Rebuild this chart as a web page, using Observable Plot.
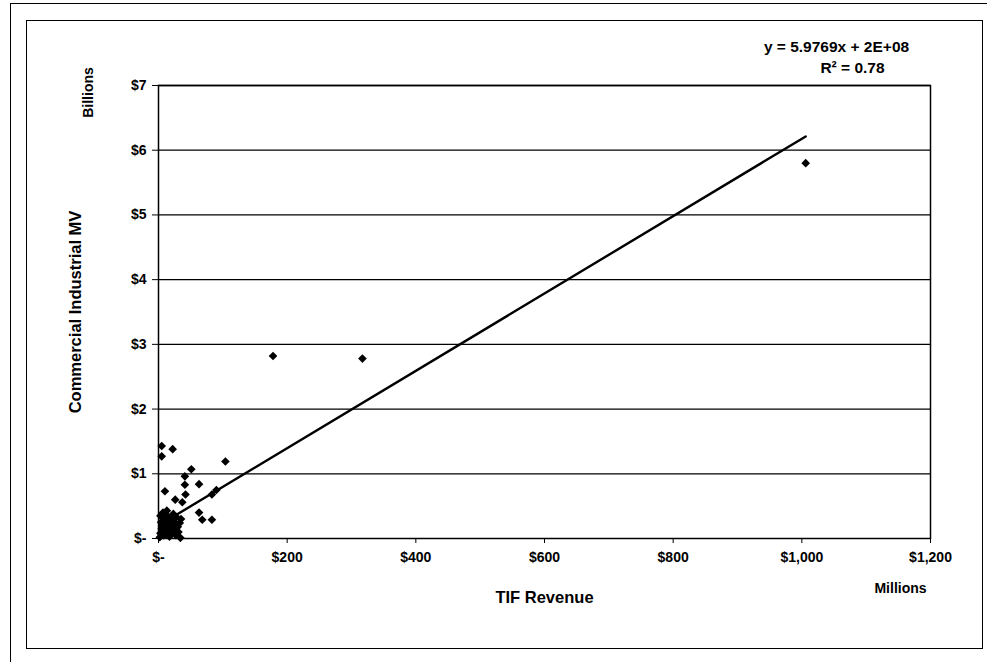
<!DOCTYPE html>
<html>
<head>
<meta charset="utf-8">
<script src="https://cdn.jsdelivr.net/npm/d3@7"></script>
<script src="https://cdn.jsdelivr.net/npm/@observablehq/plot@0.6"></script>
<style>
  html, body { margin: 0; padding: 0; background: #fff; }
  #wrap { position: relative; width: 987px; height: 662px; overflow: hidden; background: #fff; }
  #outer { position: absolute; left: 10px; top: 3px; width: 1000px; height: 700px; border: 1.5px solid #000; box-sizing: border-box; }
  #inner { position: absolute; left: 26px; top: 20px; width: 957px; height: 629px; border: 1.5px solid #000; box-sizing: border-box; }
  #chart { position: absolute; left: 0; top: 0; }
</style>
</head>
<body>
<div id="wrap">
  <div id="outer"></div>
  <div id="inner"></div>
  <div id="chart"></div>
</div>
<script>
// TIF Revenue (millions of $)
const tifRevenue = [
  5, 22, 5, 104, 51, 41, 63, 41, 10, 83, 90, 42, 26, 37, 63, 68, 83, 34,
  178, 317, 1006,
  2, 3, 5, 4, 6, 8, 9, 10, 11, 12, 14, 15, 16, 17, 18, 19, 20, 21, 22, 24,
  25, 26, 28, 30, 31, 33, 7, 13, 3, 6, 10, 23, 27, 15, 35
];
// Commercial Industrial MV (billions of $)
const commercialMV = [
  1.43, 1.38, 1.27, 1.19, 1.07, 0.96, 0.84, 0.83, 0.73, 0.68, 0.75, 0.68, 0.60, 0.56, 0.40, 0.29, 0.29, 0.01,
  2.82, 2.78, 5.80,
  0.02, 0.08, 0.15, 0.25, 0.32, 0.05, 0.12, 0.20, 0.28, 0.36, 0.10, 0.18, 0.25, 0.03, 0.14, 0.22, 0.30, 0.08, 0.16, 0.26,
  0.12, 0.20, 0.33, 0.18, 0.10, 0.24, 0.40, 0.43, 0.35, 0.18, 0.06, 0.38, 0.05, 0.33, 0.30
];
const xTicks = [0, 200, 400, 600, 800, 1000, 1200];
const yTicks = [0, 1, 2, 3, 4, 5, 6, 7];
const slope = 5.9769;        // y = 5.9769x + 2E+08 (in $)
const intercept = 2e8;
const equationText = "y = 5.9769x + 2E+08";
const r2Text = "R\u00B2 = 0.78";
const yTitle = "Commercial Industrial MV";
const xTitle = "TIF Revenue";
const yUnit = "Billions";
const xUnit = "Millions";

const points = tifRevenue.map((x, i) => ({x, y: commercialMV[i]}));
const xMin = d3.min(tifRevenue), xMax = d3.max(tifRevenue);
const trend = [xMin, xMax].map(x => ({x, y: (slope * x * 1e6 + intercept) / 1e9}));

const xFmt = d => d === 0 ? "$-" : "$" + d3.format(",")(d);
const yFmt = d => d === 0 ? "$-" : "$" + d;

const T = {textAnchor: "middle", lineAnchor: "middle", fontWeight: "bold", fill: "#000"};

const chart = Plot.plot({
  width: 987,
  height: 662,
  marginLeft: 158,
  marginRight: 57,
  marginTop: 85,
  marginBottom: 124,
  style: {
    fontFamily: "'Liberation Sans', Arial, sans-serif",
    fontSize: "14px",
    fontWeight: "bold",
    background: "transparent",
    color: "#000",
    overflow: "visible"
  },
  x: {domain: [0, 1200]},
  y: {domain: [0, 7]},
  marks: [
    Plot.ruleY(yTicks.filter(d => d > 0), {stroke: "#000", strokeWidth: 1.3}),
    Plot.frame({stroke: "#000", strokeWidth: 1.5}),
    Plot.axisX({ticks: xTicks, tickFormat: xFmt, tickSize: 5, tickPadding: 9, label: null, fontSize: 14}),
    Plot.axisY({ticks: yTicks, tickFormat: yFmt, tickSize: 6, tickPadding: 6, label: null, fontSize: 14}),
    Plot.line(trend, {x: "x", y: "y", stroke: "#000", strokeWidth: 2.4}),
    Plot.dot(points, {x: "x", y: "y", symbol: "diamond2", r: 3.9, fill: "#000", stroke: "none"}),
    Plot.text([yTitle], {...T, frameAnchor: "left", dx: -83, rotate: -90, fontSize: 16.5}),
    Plot.text([yUnit], {...T, frameAnchor: "top-left", dx: -70, dy: 7, rotate: -90, fontSize: 14}),
    Plot.text([xTitle], {...T, frameAnchor: "bottom", dy: 59, fontSize: 16.5}),
    Plot.text([xUnit], {...T, frameAnchor: "bottom-right", dx: -30, dy: 50, fontSize: 14}),
    Plot.text([equationText], {...T, frameAnchor: "top-right", dx: -94, dy: -38, fontSize: 15.5}),
    Plot.text([r2Text], {...T, frameAnchor: "top-right", dx: -78, dy: -17, fontSize: 15.5})
  ]
});
document.getElementById("chart").appendChild(chart);
</script>
</body>
</html>
